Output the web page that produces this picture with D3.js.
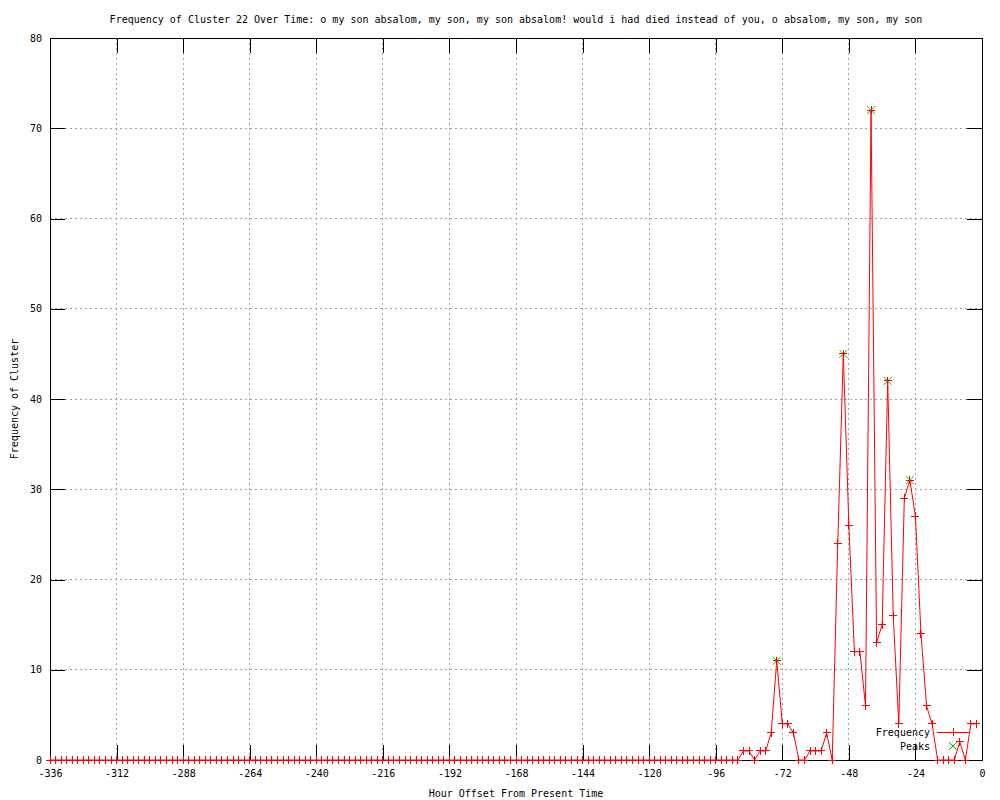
<!DOCTYPE html>
<html>
<head>
<meta charset="utf-8">
<script src="https://cdn.jsdelivr.net/npm/d3@7"></script>
<style>
  body { margin: 0; background: #fff; }
  text { font-family: "DejaVu Sans Mono", monospace; font-size: 10px; fill: #000; }
</style>
</head>
<body>
<div id="chart"></div>
<script>
// hours -336 .. -2, one value every 2 hours
const hours = d3.range(-336, 0, 2)
const frequency = [
  0, 0, 0, 0, 0, 0, 0, 0, 0, 0, 0, 0, 0, 0, 0, 0, 0, 0, 0, 0, 0, 0, 0, 0, 0,
  0, 0, 0, 0, 0, 0, 0, 0, 0, 0, 0, 0, 0, 0, 0, 0, 0, 0, 0, 0, 0, 0, 0, 0, 0,
  0, 0, 0, 0, 0, 0, 0, 0, 0, 0, 0, 0, 0, 0, 0, 0, 0, 0, 0, 0, 0, 0, 0, 0, 0,
  0, 0, 0, 0, 0, 0, 0, 0, 0, 0, 0, 0, 0, 0, 0, 0, 0, 0, 0, 0, 0, 0, 0, 0, 0,
  0, 0, 0, 0, 0, 0, 0, 0, 0, 0, 0, 0, 0, 0, 0, 0, 0, 0, 0, 0, 0, 0, 0, 0, 0,
  // -86 ...
  1, 1, 0, 1, 1, 3, 11, 4, 4, 3, 0, 0, 1, 1, 1, 3, 0,
  // -52 ...
  24, 45, 26, 12, 12, 6, 72, 13, 15, 42, 16, 4, 29, 31, 27, 14, 6, 4,
  // -16 ...
  0, 0, 0, 0, 2, 0, 4, 4
]
const peakHours = [-74, -50, -40, -34, -26]
const xTicks = d3.range(-336, 1, 24)
const yTicks = d3.range(0, 81, 10)

const title = "Frequency of Cluster 22 Over Time: o my son absalom, my son, my son absalom! would i had died instead of you, o absalom, my son, my son"

const width = 1000, height = 800
const plotLeft = 50, plotRight = 982, plotTop = 38, plotBottom = 760
const tickLen = 15

const data = hours.map((h, i) => ({ h: h, v: frequency[i] }))
const peaks = data.filter(d => peakHours.includes(d.h))

const x = d3.scaleLinear().domain([-336, 0]).range([plotLeft, plotRight])
const y = d3.scaleLinear().domain([0, 80]).range([plotBottom, plotTop])

const svg = d3.select("#chart").append("svg")
  .attr("width", width)
  .attr("height", height)

// grid
const grid = svg.append("g")
  .attr("stroke", "#a0a0a0")
  .attr("stroke-dasharray", "2,3")
  .attr("shape-rendering", "crispEdges")
grid.selectAll(".gx")
  .data(xTicks.slice(1, -1))
  .join("line")
    .attr("x1", d => x(d)).attr("x2", d => x(d))
    .attr("y1", plotTop).attr("y2", plotBottom)
grid.selectAll(".gy")
  .data(yTicks.slice(1, -1))
  .join("line")
    .attr("x1", plotLeft).attr("x2", plotRight)
    .attr("y1", d => y(d)).attr("y2", d => y(d))

// axes, ticks point inward like gnuplot
const styleAxis = g => {
  g.select(".domain").remove()
  g.selectAll(".tick line").attr("stroke", "#000").attr("shape-rendering", "crispEdges")
  g.attr("font-family", null).attr("font-size", null)
}

svg.append("g")
  .attr("transform", `translate(0,${plotBottom})`)
  .call(d3.axisBottom(x).tickValues(xTicks).tickSize(-tickLen).tickPadding(10).tickFormat(d => String(d)))
  .call(styleAxis)

svg.append("g")
  .attr("transform", `translate(0,${plotTop})`)
  .call(d3.axisTop(x).tickValues(xTicks).tickSize(-tickLen).tickFormat(""))
  .call(styleAxis)

svg.append("g")
  .attr("transform", `translate(${plotLeft},0)`)
  .call(d3.axisLeft(y).tickValues(yTicks).tickSize(-tickLen).tickPadding(8))
  .call(styleAxis)

svg.append("g")
  .attr("transform", `translate(${plotRight},0)`)
  .call(d3.axisRight(y).tickValues(yTicks).tickSize(-tickLen).tickFormat(""))
  .call(styleAxis)

svg.append("rect")
  .attr("x", plotLeft).attr("y", plotTop)
  .attr("width", plotRight - plotLeft).attr("height", plotBottom - plotTop)
  .attr("fill", "none").attr("stroke", "#000")
  .attr("shape-rendering", "crispEdges")

// series
const plot = svg.append("g")

const line = d3.line().x(d => x(d.h)).y(d => y(d.v))

plot.selectAll(".peak")
  .data(peaks)
  .join("path")
    .attr("transform", d => `translate(${x(d.h)},${y(d.v)})`)
    .attr("d", "M-4,-4L4,4M-4,4L4,-4")
    .attr("stroke", "#00c000")
    .attr("fill", "none")

plot.append("path")
  .datum(data)
  .attr("d", line)
  .attr("fill", "none")
  .attr("stroke", "#ff0000")
  .attr("stroke-width", 1)

plot.selectAll(".pt")
  .data(data)
  .join("path")
    .attr("transform", d => `translate(${x(d.h)},${y(d.v)})`)
    .attr("d", "M-4,0H4M0,-4V4")
    .attr("stroke", "#ff0000")
    .attr("shape-rendering", "crispEdges")

// legend
const legend = svg.append("g")
legend.append("text")
  .attr("x", 930).attr("y", 732).attr("dy", "0.35em")
  .attr("text-anchor", "end")
  .text("Frequency")
legend.append("line")
  .attr("x1", 937).attr("x2", 969).attr("y1", 732).attr("y2", 732)
  .attr("stroke", "#ff0000")
  .attr("shape-rendering", "crispEdges")
legend.append("path")
  .attr("transform", "translate(953,732)")
  .attr("d", "M-4,0H4M0,-4V4")
  .attr("stroke", "#ff0000")
  .attr("shape-rendering", "crispEdges")
legend.append("text")
  .attr("x", 930).attr("y", 746).attr("dy", "0.35em")
  .attr("text-anchor", "end")
  .text("Peaks")
legend.append("path")
  .attr("transform", "translate(953,746)")
  .attr("d", "M-4,-4L4,4M-4,4L4,-4")
  .attr("stroke", "#00c000")
  .attr("fill", "none")

// titles
svg.append("text")
  .attr("x", (plotLeft + plotRight) / 2).attr("y", 19).attr("dy", "0.35em")
  .attr("text-anchor", "middle")
  .text(title)

svg.append("text")
  .attr("x", (plotLeft + plotRight) / 2).attr("y", 793).attr("dy", "0.35em")
  .attr("text-anchor", "middle")
  .text("Hour Offset From Present Time")

svg.append("text")
  .attr("transform", `translate(14,${(plotTop + plotBottom) / 2}) rotate(-90)`)
  .attr("dy", "0.35em")
  .attr("text-anchor", "middle")
  .text("Frequency of Cluster")
</script>
</body>
</html>
